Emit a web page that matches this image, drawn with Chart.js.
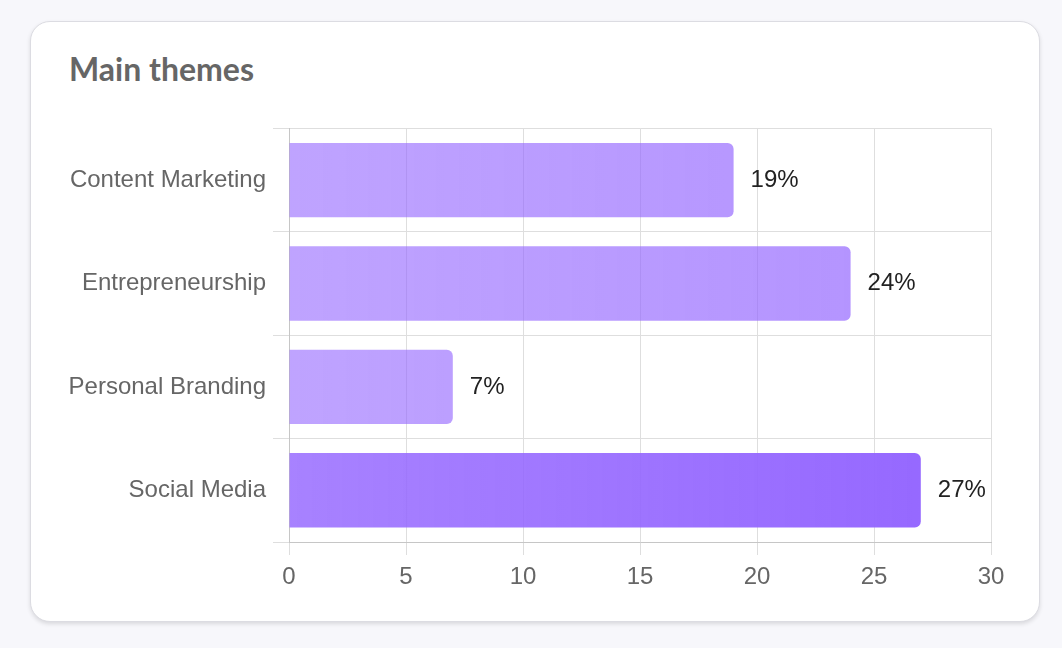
<!DOCTYPE html>
<html>
<head>
<meta charset="utf-8">
<script src="https://cdn.jsdelivr.net/npm/chart.js@4"></script>
<style>
  html, body { margin: 0; padding: 0; }
  body { width: 1062px; height: 648px; background: #f7f7fb; position: relative; overflow: hidden; }
  .card {
    position: absolute; left: 30px; top: 21px; width: 1008px; height: 599px;
    background: #fff; border: 1px solid #dcdce2; border-radius: 20px;
    box-shadow: 0 2px 4px rgba(0, 0, 0, 0.12);
  }
  .card h2 {
    position: absolute; left: 38px; top: 28px; margin: 0; line-height: 1.2;
    font-family: Lato, "Noto Sans", sans-serif; font-weight: 700; font-size: 32px;
    color: #666;
  }
  .chart-box { position: absolute; left: 20px; top: 85px; width: 970px; height: 493px; }
</style>
</head>
<body>
<div class="card">
  <h2>Main themes</h2>
  <div class="chart-box"><canvas id="themesChart"></canvas></div>
</div>
<script>
const categories = ['Content Marketing', 'Entrepreneurship', 'Personal Branding', 'Social Media'];
const values = [19, 24, 7, 27];
const xTicks = [0, 5, 10, 15, 20, 25, 30];

const topValue = Math.max(...values);
const fontFamily = '"Liberation Sans", Arial, sans-serif';

// bar fill: the biggest one is stronger, the others faded
function barColor(context) {
    const chart = context.chart;
    const area = chart.chartArea;
    if (!area) return 'rgba(148,102,255,0.65)';
    const g = chart.ctx.createLinearGradient(area.left, 0, area.right, 0);
    if (context.raw === topValue) {
        g.addColorStop(0, 'rgba(148,102,255,0.82)');
        g.addColorStop(1, 'rgba(148,102,255,1)');
    } else {
        g.addColorStop(0, 'rgba(148,102,255,0.6)');
        g.addColorStop(1, 'rgba(148,102,255,0.72)');
    }
    return g;
}

const valueLabelPlugin = {
    id: 'valueLabel',
    afterDatasetsDraw: function (chart) {
        const ctx = chart.ctx;
        const meta = chart.getDatasetMeta(0);
        ctx.save();
        ctx.font = '24px ' + fontFamily;
        ctx.fillStyle = '#222';
        ctx.textAlign = 'left';
        ctx.textBaseline = 'middle';
        meta.data.forEach((bar, i) => {
            ctx.fillText(values[i] + '%', bar.x + 17, bar.y);
        });
        ctx.restore();
    }
};

new Chart(document.getElementById('themesChart'), {
    type: 'bar',
    data: {
        labels: categories,
        datasets: [{
            data: values,
            backgroundColor: barColor,
            borderRadius: 6,
            borderSkipped: 'start',
            categoryPercentage: 0.8,
            barPercentage: 0.9
        }]
    },
    options: {
        indexAxis: 'y',
        responsive: true,
        maintainAspectRatio: false,
        animation: false,
        layout: { padding: { top: 14, right: 30, bottom: 0, left: 0 } },
        plugins: {
            legend: { display: false },
            tooltip: { enabled: false }
        },
        scales: {
            x: {
                min: 0,
                max: 30,
                afterBuildTicks: function (scale) {
                    scale.ticks = xTicks.map(v => ({ value: v }));
                },
                grid: { color: '#dedede', tickLength: 13, lineWidth: 1 },
                border: { color: '#c6c6c6' },
                ticks: {
                    color: '#666',
                    padding: 8,
                    font: { size: 24, family: fontFamily }
                },
                afterFit: function (scale) { scale.height = 58; }
            },
            y: {
                grid: { color: '#dedede', tickLength: 16, lineWidth: 1 },
                border: { color: '#c6c6c6' },
                ticks: {
                    color: '#666',
                    padding: 7,
                    font: { size: 24, family: fontFamily }
                },
                afterFit: function (scale) { scale.width = 238; }
            }
        }
    },
    plugins: [valueLabelPlugin]
});
</script>
</body>
</html>
